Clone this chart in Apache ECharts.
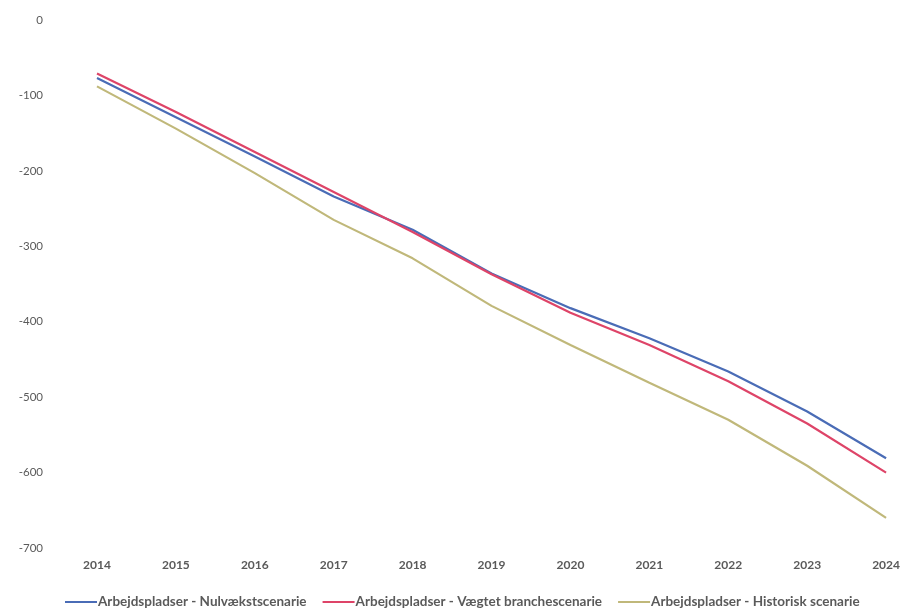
<!DOCTYPE html>
<html>
<head>
<meta charset="utf-8">
<script src="https://cdn.jsdelivr.net/npm/echarts@6/dist/echarts.min.js"></script>
<style>
html,body{margin:0;padding:0;background:#fff;}
#chart{width:903px;height:615px;}
</style>
</head>
<body>
<div id="chart"></div>
<script>
var years = ['2014','2015','2016','2017','2018','2019','2020','2021','2022','2023','2024'];
var nulvaekst = [-77, -129, -181, -234, -278, -336, -382, -422, -466, -519, -581];
var vaegtet   = [-71, -122, -175, -228, -281, -337, -388, -431, -479, -535, -600];
var historisk = [-88, -144, -203, -265, -316, -379, -431, -481, -530, -591, -660];
var seriesNames = [
  'Arbejdspladser - Nulvækstscenarie',
  'Arbejdspladser - Vægtet branchescenarie',
  'Arbejdspladser - Historisk scenarie'
];
var colors = ['#4a6cb6', '#de4468', '#c0b87a'];

var chart = echarts.init(document.getElementById('chart'));
var fontFam = 'Lato, "Open Sans", sans-serif';
chart.setOption({
  backgroundColor: '#ffffff',
  animation: false,
  color: colors,
  grid: {left: 97, right: 15, top: 20, bottom: 67},
  legend: {
    bottom: 1,
    left: 60,
    icon: 'rect',
    itemWidth: 32,
    itemHeight: 2,
    itemGap: 16,
    textStyle: {color: '#5a5a5a', fontSize: 13.5, fontWeight: 'bold', fontFamily: fontFam, padding: [0,0,0,-4]},
    data: seriesNames
  },
  xAxis: {
    type: 'category',
    data: years,
    boundaryGap: false,
    axisLine: {show: false},
    axisTick: {show: false},
    splitLine: {show: false},
    axisLabel: {color: '#5a5a5a', fontSize: 12, fontWeight: 'bold', fontFamily: fontFam, margin: 11}
  },
  yAxis: {
    type: 'value',
    min: -700,
    max: 0,
    interval: 100,
    axisLine: {show: false},
    axisTick: {show: false},
    splitLine: {show: false},
    axisLabel: {color: '#5a5a5a', fontSize: 11.5, fontFamily: fontFam, margin: 54}
  },
  series: [
    {name: seriesNames[0], type: 'line', data: nulvaekst, showSymbol: false, lineStyle: {width: 2.2}},
    {name: seriesNames[1], type: 'line', data: vaegtet, showSymbol: false, lineStyle: {width: 2.2}},
    {name: seriesNames[2], type: 'line', data: historisk, showSymbol: false, lineStyle: {width: 2.2}}
  ]
});
</script>
</body>
</html>
